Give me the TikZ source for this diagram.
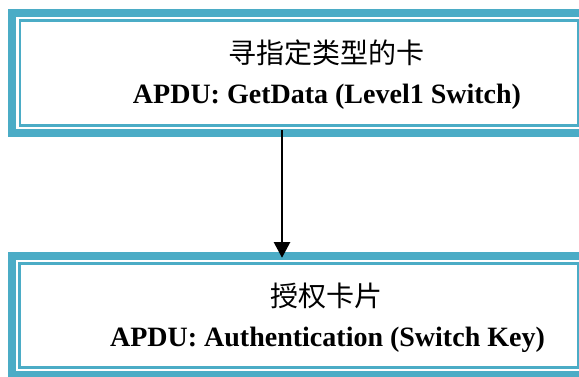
\documentclass[tikz,border=0pt]{standalone}
\usepackage{fontspec}
\setmainfont{Liberation Serif}
\newfontfamily\cjkfont{Noto Sans CJK SC}
\usetikzlibrary{arrows.meta,calc}
\definecolor{frameblue}{HTML}{4BACC6}
\tikzset{
  innerframe/.style={draw=frameblue, line width=2.5pt, fill=white,
    rectangle, inner sep=0pt},
  outerband/.style={draw=frameblue, line width=8pt},
  cjktext/.style={font=\cjkfont\fontsize{28}{32}\selectfont, inner sep=0pt},
  apdutext/.style={font=\bfseries\fontsize{28}{32}\selectfont, inner sep=0pt, anchor=base},
  flow/.style={line width=2pt, -{Triangle[width=16pt,length=15.5pt]}}
}
\begin{document}
\begin{tikzpicture}[x=1pt,y=-1pt]
  \useasboundingbox (0,0) rectangle (579,377);
  \clip (0,0) rectangle (579,377);

  % upper frame
  \node[innerframe, minimum width=558.25pt, minimum height=105.25pt]
    (box1) at (298.9,72.9) {};
  \draw[outerband] ($(box1.north west)+(-6.4,-6.5)$) rectangle ($(box1.south east)+(20,6.5)$);
  \node[cjktext]  (t1) at (326.5,53) {寻指定类型的卡};
  \node[apdutext] (a1) at (327,104)  {APDU: GetData (Level1 Switch)};

  % lower frame
  \node[innerframe, minimum width=558.5pt, minimum height=104pt]
    (box2) at (298.8,315.5) {};
  \draw[outerband] ($(box2.north west)+(-6.5,-6.5)$) rectangle ($(box2.south east)+(20,6.5)$);
  \node[cjktext]  (t2) at (326.7,295.5) {授权卡片};
  \node[apdutext] (a2) at (327.5,346.7) {APDU: Authentication (Switch Key)};

  % connector
  \coordinate (ax) at (282,0);
  \draw[flow, shorten <=3.25pt, shorten >=4.5pt] (box1.south -| ax) -- (box2.north -| ax);
\end{tikzpicture}
\end{document}
